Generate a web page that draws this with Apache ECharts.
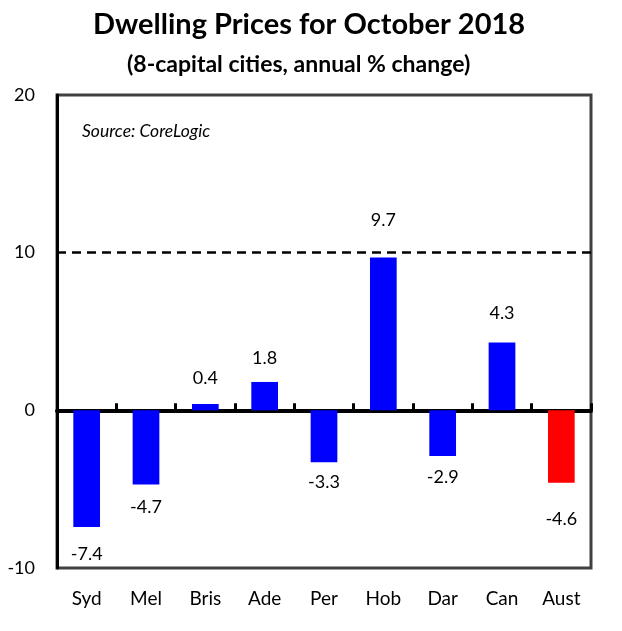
<!DOCTYPE html>
<html>
<head>
<meta charset="utf-8">
<script src="https://cdn.jsdelivr.net/npm/echarts@6/dist/echarts.min.js"></script>
<style>html,body{margin:0;padding:0;background:#fff;}#c{width:622px;height:631px;}</style>
</head>
<body>
<div id="c"></div>
<script>
const categories = ['Syd', 'Mel', 'Bris', 'Ade', 'Per', 'Hob', 'Dar', 'Can', 'Aust'];
const values = [-7.4, -4.7, 0.4, 1.8, -3.3, 9.7, -2.9, 4.3, -4.6];
const barColors = ['#0000FF', '#0000FF', '#0000FF', '#0000FF', '#0000FF', '#0000FF', '#0000FF', '#0000FF', '#FF0000'];
const labelGap = [18, 14, 17, 15, 11, 28, 12, 20, 27];
const yTicks = [-10, 0, 10, 20];
const refLevel = 10;

const FONT = 'Lato, "Open Sans", sans-serif';
const chart = echarts.init(document.getElementById('c'));
chart.setOption({
  animation: false,
  backgroundColor: '#fff',
  title: [
    { text: 'Dwelling Prices for October 2018', left: 88, top: 5,
      textStyle: { fontFamily: FONT, fontSize: 29, fontWeight: 'bold', color: '#000' } },
    { text: '(8-capital cities, annual % change)', left: 122, top: 48,
      textStyle: { fontFamily: FONT, fontSize: 23, fontWeight: 'bold', color: '#000' } }
  ],
  graphic: [
    { type: 'text', left: 82, top: 122,
      style: { text: 'Source: CoreLogic', fontFamily: FONT, fontSize: 17.5, fontStyle: 'italic', fill: '#000' } }
  ],
  grid: { left: 57, right: 31, top: 95, bottom: 63, show: true, borderColor: '#404040', borderWidth: 3, backgroundColor: 'transparent' },
  xAxis: [
    { type: 'category', data: categories, position: 'bottom',
      axisLine: { onZero: true, lineStyle: { color: '#000', width: 4 } },
      axisTick: { show: true, inside: true, length: 7, lineStyle: { color: '#000', width: 3 } },
      axisLabel: { show: false }, splitLine: { show: false } },
    { type: 'category', data: categories, position: 'bottom',
      axisLine: { show: false, onZero: false }, axisTick: { show: false },
      axisLabel: { show: true, margin: 21, fontFamily: FONT, fontSize: 19, color: '#000' } }
  ],
  yAxis: {
    type: 'value', min: yTicks[0], max: yTicks[yTicks.length - 1], interval: 10,
    axisLine: { show: true, lineStyle: { color: '#000', width: 3 } },
    axisTick: { show: false },
    splitLine: { show: false },
    axisLabel: { margin: 22, fontFamily: FONT, fontSize: 18, color: '#000' }
  },
  series: [{
    type: 'bar', xAxisIndex: 0,
    barWidth: '45%',
    data: values.map((v, i) => ({
      value: v,
      itemStyle: { color: barColors[i] },
      label: { position: v >= 0 ? 'top' : 'bottom', distance: labelGap[i] }
    })),
    label: { show: true, fontFamily: FONT, fontSize: 18, color: '#000', formatter: p => p.value.toFixed(1) },
    markLine: {
      silent: true, symbol: 'none', label: { show: false },
      lineStyle: { color: '#000', width: 2.5, type: [9, 6] },
      data: [{ yAxis: refLevel }]
    },
    z: 1
  }]
});
</script>
</body>
</html>
